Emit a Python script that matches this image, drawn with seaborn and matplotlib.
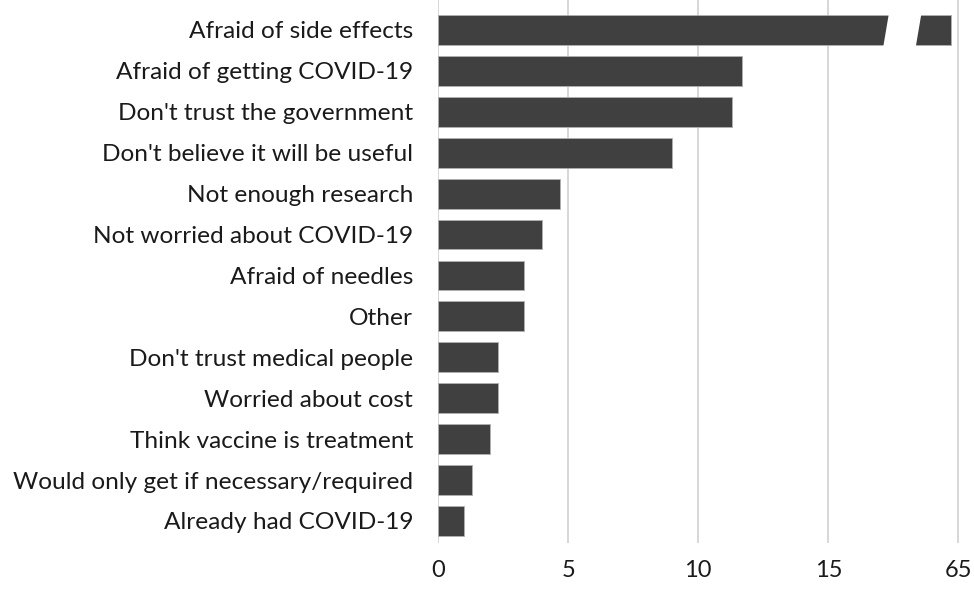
import numpy as np
import pandas as pd
import matplotlib
matplotlib.use('Agg')
import matplotlib.pyplot as plt
from matplotlib.patches import Polygon
import seaborn as sns

# Данные (проценты)
reasons = [
    "Afraid of side effects",
    "Afraid of getting COVID-19",
    "Don't trust the government",
    "Don't believe it will be useful",
    "Not enough research",
    "Not worried about COVID-19",
    "Afraid of needles",
    "Other",
    "Don't trust medical people",
    "Worried about cost",
    "Think vaccine is treatment",
    "Would only get if necessary/required",
    "Already had COVID-19",
]
percent = [61.3, 11.7, 11.3, 9.0, 4.7, 4.0, 3.3, 3.3, 2.3, 2.3, 2.0, 1.3, 1.0]
tick_values = [0, 5, 10, 15, 65]

# Разрыв оси: линейно до 16, дальше сжато так, что 65 стоит на месте "20"
BREAK = 16
TOP = 65
TOP_POS = 20
k = (TOP_POS - BREAK) / (TOP - BREAK)


def forward(x):
    x = np.asarray(x, dtype=float)
    return np.where(x <= BREAK, x, BREAK + (x - BREAK) * k)


def inverse(u):
    u = np.asarray(u, dtype=float)
    return np.where(u <= BREAK, u, BREAK + (u - BREAK) / k)


sns.set_style('white')
plt.rcParams['font.family'] = ['Lato', 'DejaVu Sans']

df = pd.DataFrame({'reason': reasons, 'percent': percent})

fig = plt.figure(figsize=(9.74, 5.89), dpi=100)
ax = fig.add_axes([0.4497, 0.078, 0.541, 0.922])

sns.barplot(data=df, y='reason', x='percent', color='#404040', saturation=1,
            width=0.73, edgecolor='#b0b0b0', linewidth=0.6, ax=ax)

ax.set_xscale('function', functions=(forward, inverse))
ax.set_xlim(0, float(inverse(20.25)))
ax.set_ylim(12.54, -0.733)
ax.set_xticks(tick_values)
ax.set_xticklabels([str(v) for v in tick_values])

ax.grid(axis='x', color='#d4d4d4', linewidth=1.3)
ax.grid(axis='y', visible=False)
ax.set_axisbelow(True)
for s in ax.spines.values():
    s.set_visible(False)

ax.set_xlabel('')
ax.set_ylabel('')
ax.tick_params(axis='x', length=0, pad=12, labelsize=17, colors='#1a1a1a')
ax.tick_params(axis='y', length=0, pad=18, labelsize=17.6, colors='#1a1a1a')

# белый косой разрыв на первом столбце
gap_u = [(17.34, -0.45), (18.59, -0.45), (18.35, 0.45), (17.10, 0.45)]
gap = Polygon([(float(inverse(u)), y) for u, y in gap_u], closed=True,
              facecolor='white', edgecolor='none', zorder=5)
ax.add_patch(gap)

fig.savefig('out.png', dpi=100)
plt.close(fig)
